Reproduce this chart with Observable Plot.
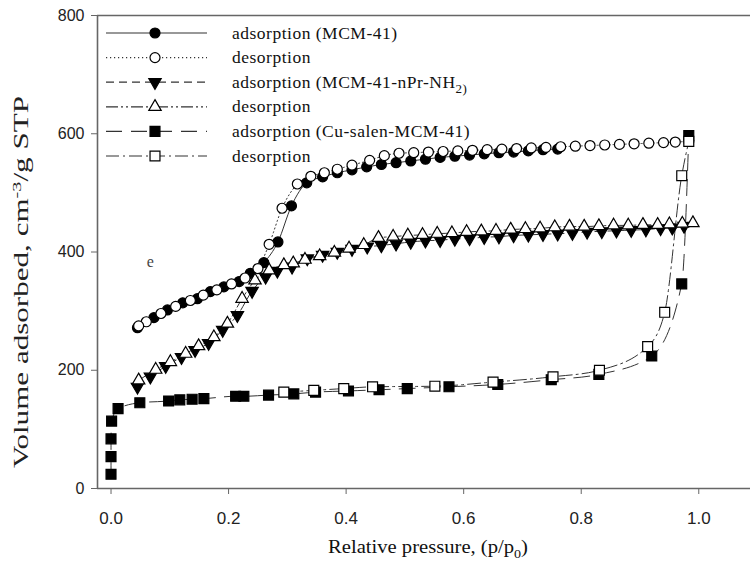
<!DOCTYPE html>
<html>
<head>
<meta charset="utf-8">
<script src="https://cdn.jsdelivr.net/npm/d3@7"></script>
<script src="https://cdn.jsdelivr.net/npm/@observablehq/plot@0.6"></script>
<style>
  html, body { margin: 0; padding: 0; background: #fff; }
  #chart { width: 750px; height: 566px; }
</style>
</head>
<body>
<div id="chart"></div>
<script>
// ---------- data ----------
// MCM-41 adsorption (filled circles)
const adsMcmX = [0.045,0.073,0.096,0.122,0.147,0.169,0.192,0.218,0.237,0.26,0.284,0.307,0.333,0.36,0.385,0.41,0.435,0.46,0.485,0.51,0.535,0.56,0.585,0.61,0.635,0.66,0.685,0.71,0.735,0.76];
const adsMcmY = [272,289,302,314,321,333,341,350,364,382,417,478,517,527,534,539,544,548,551,554,557,560,562,564,566,568,569,571,573,574];
// MCM-41 desorption (open circles)
const desMcmX = [0.983,0.96,0.94,0.915,0.89,0.865,0.84,0.815,0.79,0.765,0.74,0.715,0.69,0.665,0.64,0.615,0.59,0.565,0.54,0.515,0.49,0.465,0.44,0.41,0.385,0.363,0.34,0.317,0.291,0.269,0.25,0.228,0.205,0.18,0.157,0.135,0.11,0.085,0.06,0.047];
const desMcmY = [587,586,585,584,583,582,581,580,579,578,577,576,575,574,573,572,571,570,569,568,567,563,555,547,540,534,528,515,474,413,372,356,346,336,327,318,308,296,282,275];
// MCM-41-nPr-NH2 adsorption (filled down triangles)
const adsNprX = [0.045,0.067,0.093,0.12,0.143,0.166,0.19,0.215,0.24,0.263,0.283,0.308,0.334,0.36,0.385,0.41,0.436,0.46,0.485,0.51,0.535,0.56,0.585,0.61,0.635,0.66,0.685,0.71,0.735,0.76,0.785,0.81,0.835,0.86,0.885,0.91,0.935,0.955,0.975];
const adsNprY = [172,189,207,222,234,246,268,293,334,358,368,375,389,395,400,405,409,411,414,417,419,420,422,423,425,426,428,429,430,431,432,434,435,436,437,438,440,441,444];
// MCM-41-nPr-NH2 desorption (open up triangles)
const desNprX = [0.99,0.972,0.95,0.93,0.905,0.88,0.855,0.83,0.805,0.78,0.755,0.73,0.705,0.68,0.655,0.63,0.605,0.58,0.555,0.53,0.505,0.48,0.455,0.43,0.405,0.38,0.355,0.33,0.31,0.294,0.269,0.245,0.223,0.198,0.175,0.149,0.127,0.101,0.076,0.047];
const desNprY = [449,448,447,446,446,445,445,444,443,443,442,440,439,438,436,435,434,432,431,429,428,426,424,412,406,399,393,387,381,378,369,352,321,279,256,241,228,214,201,183];
// Cu-salen-MCM-41 adsorption (filled squares)
const adsCuX = [0.0,0.0,0.0,0.001,0.012,0.049,0.098,0.117,0.138,0.158,0.212,0.226,0.268,0.311,0.348,0.404,0.456,0.504,0.575,0.658,0.749,0.83,0.92,0.971,0.983];
const adsCuY = [24,54,84,114,135,145,148,150,151,152,156,156,158,160,163,165,167,169,172,176,184,193,224,346,597];
// Cu-salen-MCM-41 desorption (open squares)
const desCuX = [0.983,0.971,0.942,0.913,0.831,0.752,0.65,0.551,0.445,0.396,0.345,0.294];
const desCuY = [587,529,298,240,200,189,180,173,172,169,166,163];

// axis ticks
const xTicks = [0, 0.2, 0.4, 0.6, 0.8, 1.0];
const yTicks = [0, 200, 400, 600, 800];
const xDomain = [-0.023, 1.088];
const yDomain = [0, 800];

// panel annotation
const noteX = [0.067], noteY = [383], noteText = ["e"];

// legend labels
const legendLabels = ["adsorption (MCM-41)", "desorption", "adsorption (MCM-41-nPr-NH|2)", "desorption", "adsorption (Cu-salen-MCM-41)", "desorption"];

// ---------- build ----------
const zip = (xs, ys) => xs.map((x, i) => ({x, y: ys[i]}));
const sortX = a => a.slice().sort((p, q) => p.x - q.x || p.y - q.y);

const series = [
  {data: zip(adsMcmX, adsMcmY), dash: null,               symbol: "circle",   rotate: 0,   r: 5,   fill: "black"},
  {data: zip(desMcmX, desMcmY), dash: "1.2,2.8",          symbol: "circle",   rotate: 0,   r: 5,   fill: "white"},
  {data: zip(adsNprX, adsNprY), dash: "8,5",              symbol: "triangle", rotate: 180, r: 4.6, fill: "black"},
  {data: zip(desNprX, desNprY), dash: "12,3,2,3,2,3",     symbol: "triangle", rotate: 0,   r: 4.6, fill: "white"},
  {data: zip(adsCuX, adsCuY),   dash: "16,9",             symbol: "square",   rotate: 0,   r: 5.6, fill: "black"},
  {data: zip(desCuX, desCuY),   dash: "13,4,2,4",         symbol: "square",   rotate: 0,   r: 5.6, fill: "white"}
];

const lineColor = "#333";
const axisColor = "#666";

const marks = [];
series.forEach(s => {
  marks.push(Plot.line(sortX(s.data), {x: "x", y: "y", stroke: lineColor, strokeWidth: 1,
    strokeDasharray: s.dash || undefined, curve: "monotone-x"}));
});
series.forEach(s => {
  marks.push(Plot.dot(s.data, {x: "x", y: "y", symbol: s.symbol, rotate: s.rotate, r: s.r,
    fill: s.fill, stroke: "black", strokeWidth: 1.2}));
});
marks.push(Plot.ruleX([xDomain[0]], {stroke: axisColor, strokeWidth: 1.6}));
marks.push(Plot.ruleY([yDomain[0]], {stroke: axisColor, strokeWidth: 1.6}));
marks.push(Plot.ruleY([yDomain[1]], {stroke: axisColor, strokeWidth: 1.6}));
marks.push(Plot.axisX({ticks: xTicks, tickFormat: d3.format(".1f"), tickSize: 6, tickPadding: 17,
  stroke: axisColor, fill: "#222", fontSize: 17, label: null}));
marks.push(Plot.axisY({ticks: yTicks, tickSize: 6, tickPadding: 7,
  stroke: axisColor, fill: "#222", fontSize: 16, label: null}));
marks.push(Plot.text(noteX.map((x, i) => ({x, y: noteY[i], t: noteText[i]})), {x: "x", y: "y", text: "t",
  fontFamily: "Liberation Serif", fontSize: 16, fill: "#444"}));

const svg = Plot.plot({
  width: 750, height: 566,
  marginLeft: 97, marginRight: 0, marginTop: 15, marginBottom: 78,
  style: {fontFamily: "Liberation Sans, Arial, sans-serif", background: "white", overflow: "visible"},
  x: {domain: xDomain},
  y: {domain: yDomain},
  marks
});

document.getElementById("chart").appendChild(svg);

// ---------- legend and axis titles (serif) ----------
const g = d3.select(svg).append("g")
  .attr("font-family", "Liberation Serif, Times New Roman, serif")
  .attr("text-anchor", "start");
const legX0 = 106, legX1 = 207, legMark = 155, legText = 232, legY0 = 33, legDy = 24.6;
const symbolMap = {circle: d3.symbolCircle, triangle: d3.symbolTriangle, square: d3.symbolSquare};
series.forEach((s, i) => {
  const y = legY0 + i * legDy;
  g.append("line").attr("x1", legX0).attr("x2", legX1).attr("y1", y).attr("y2", y)
    .attr("stroke", lineColor).attr("stroke-width", 1.2)
    .attr("stroke-dasharray", s.dash || null);
  g.append("path")
    .attr("d", d3.symbol(symbolMap[s.symbol], s.r * s.r * Math.PI)())
    .attr("transform", `translate(${legMark},${y}) rotate(${s.rotate})`)
    .attr("fill", s.fill).attr("stroke", "black").attr("stroke-width", 1.2);
  const parts = legendLabels[i].split("|");
  const t = g.append("text").attr("x", legText).attr("y", y + 5.5).attr("font-size", 17.5)
    .attr("text-anchor", "start").attr("letter-spacing", "0.5px").attr("fill", "#111");
  t.append("tspan").text(parts[0]);
  if (parts[1]) {
    t.append("tspan").attr("dy", 5).attr("font-size", 13).text(parts[1]);
  }
});

// x title
const xt = g.append("text").attr("x", 428).attr("y", 553).attr("text-anchor", "middle")
  .attr("font-size", 19).attr("fill", "#111")
  .attr("textLength", 200).attr("lengthAdjust", "spacingAndGlyphs");
xt.append("tspan").text("Relative pressure, (p/p");
xt.append("tspan").attr("dy", 5).attr("font-size", 13).text("0");
xt.append("tspan").attr("dy", -5).text(")");

// y title
const yt = g.append("text").attr("transform", "translate(28,282) rotate(-90)").attr("text-anchor", "middle")
  .attr("font-size", 20).attr("fill", "#222")
  .attr("textLength", 372).attr("lengthAdjust", "spacingAndGlyphs");
yt.append("tspan").text("Volume adsorbed, cm");
yt.append("tspan").attr("dy", -7).attr("font-size", 13).text("-3");
yt.append("tspan").attr("dy", 7).text("/g STP");
</script>
</body>
</html>
